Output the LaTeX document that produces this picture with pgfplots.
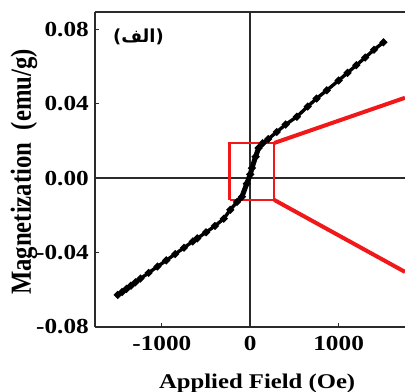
\documentclass[border=0pt]{standalone}
\usepackage{graphicx}
\usepackage{fontspec}
\setmainfont{Liberation Serif}[FakeStretch=1.18]
\newfontfamily\ylabfont{Liberation Serif}
\newfontfamily\arabicfont[Script=Arabic]{DejaVu Sans}
\newfontfamily\djv{DejaVu Sans}
\TeXXeTstate=1
\usepackage{pgfplots}
\pgfplotsset{compat=1.18}
\definecolor{axgray}{HTML}{2A2A2A}
\definecolor{refred}{HTML}{F01818}
\pgfplotstableread{
x y
-1500 -0.0628
-1450 -0.0612
-1400 -0.0595
-1350 -0.0578
-1300 -0.0560
-1243 -0.0540
-1150 -0.0509
-1050 -0.0475
-950 -0.0442
-850 -0.0408
-750 -0.0374
-650 -0.0340
-600 -0.0324
-500 -0.0291
-400 -0.0257
-300 -0.0218
-226 -0.0170
-150 -0.0128
-94 -0.0100
-40 -0.0030
0 0.0020
19 0.0054
60 0.0115
94 0.0162
140 0.0188
203 0.0210
300 0.0248
400 0.0288
527 0.0330
650 0.0385
750 0.0428
866 0.0472
1000 0.0525
1100 0.0566
1200 0.0607
1300 0.0648
1400 0.0690
1507 0.0730
}\magdata
\pgfplotstableread{
x y
-150 -0.0128
-94 -0.0100
-40 -0.0030
0 0.0020
19 0.0054
60 0.0115
94 0.0162
140 0.0188
}\coredata
\begin{document}
\begin{tikzpicture}
\begin{axis}[
  scale only axis,
  width=310bp, height=315bp,
  xmin=-1757, xmax=1751,
  ymin=-0.08, ymax=0.0893,
  axis x line*=box,
  axis y line*=left,
  tick pos=left,
  axis line style={axgray, line width=2bp},
  tick style={axgray, line width=1.2bp},
  tick align=inside,
  major tick length=4bp,
  xtick={-1000,0,1000},
  xticklabels={-1000,0,1000},
  ytick={-0.08,-0.04,0,0.04,0.08},
  yticklabels={-0.08,-0.04,0.00,0.04,0.08},
  scaled y ticks=false,
  scaled x ticks=false,
  /pgf/number format/assume math mode=true,
  tick label style={font=\fontsize{21.5}{24}\selectfont\bfseries},
  yticklabel style={inner sep=0pt, anchor=east, xshift=-6bp},
  xticklabel style={inner sep=0pt, anchor=north, yshift=-9bp},
  xlabel={\fontsize{21}{24}\selectfont\bfseries Applied Field (Oe)},
  ylabel={\ylabfont\bfseries\fontsize{24.8}{26}\selectfont\scalebox{1}[1.18]{Magnetization\ \ (emu/g)}},
  every axis x label/.style={at={(axis description cs:0.523,-0.194)}, anchor=base},
  every axis y label/.style={at={(axis description cs:-0.229,0.492)}, rotate=90, anchor=center},
]
\coordinate (sw) at (rel axis cs:0,0);
\coordinate (ne) at (rel axis cs:1,1);
% reference lines through the origin
\addplot[axgray, line width=1.8bp] coordinates {(0,-0.08) (0,0.0893)};
\addplot[axgray, line width=1.8bp] coordinates {(-1757,0) (1751,0)};
% red zoom box and connectors
\addplot[refred, line width=2.2bp, line join=miter] coordinates {(-234,-0.0117) (271,-0.0117) (271,0.0189) (-234,0.0189) (-234,-0.0117)};
\addplot[refred, line width=4bp] coordinates {(271,0.0189) (1751,0.0432)};
\addplot[refred, line width=4bp] coordinates {(271,-0.0117) (1751,-0.0504)};
% data
\addplot[black, line width=3.4bp, mark=*, mark size=1.8bp] table[x=x,y=y] {\magdata};
\addplot[black, line width=5bp] table[x=x,y=y] {\coredata};
\node[anchor=center, inner sep=0pt] at (axis cs:-1266,0.0757) {\fontsize{18}{20}\selectfont\bfseries{\djv(}{\arabicfont\beginR الف\endR}{\djv)}};
\end{axis}
\pgfresetboundingbox
\path[use as bounding box] ([xshift=-95bp,yshift=-65bp]sw) rectangle ([yshift=12bp]ne);
\end{tikzpicture}
\end{document}
